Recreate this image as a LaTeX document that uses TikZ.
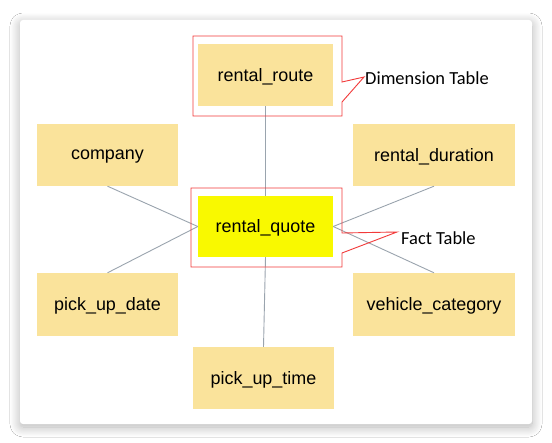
\documentclass[tikz,border=0pt]{standalone}
\usepackage{fontspec}
\setmainfont{Liberation Sans}
\newfontfamily\calibri{Carlito}
\usetikzlibrary{shadows.blur}
\definecolor{boxfill}{HTML}{FAE39B}
\definecolor{factfill}{HTML}{F9F900}
\definecolor{frame}{HTML}{F23A3A}
\definecolor{conn}{HTML}{9AA4AE}
\tikzset{
  tbl/.style={rectangle, fill=boxfill, inner sep=0pt, font=\fontsize{18}{21}\selectfont, text depth=0pt},
  fact/.style={tbl, fill=factfill},
  conline/.style={draw=conn, line width=0.9bp},
  callout/.style={draw=frame, line width=0.9bp, line join=miter},
  note/.style={font=\calibri\fontsize{18.5}{21}\selectfont, inner sep=0pt, anchor=west}
}
\begin{document}
\begin{tikzpicture}[x=1bp, y=-1bp]
\useasboundingbox (0,0) rectangle (552,443);
\fill[white] (0,0) rectangle (552,443);
\path[fill=white, rounded corners=3bp,
  blur shadow={shadow xshift=0bp, shadow yshift=-3bp, shadow blur radius=10bp, shadow blur steps=16, shadow opacity=30}]
  (20,20) rectangle (532,424);

% tables
\node[tbl, minimum width=135bp, minimum height=62bp] (route) at (265.5,75) {rental\_route};
\node[fact, minimum width=135bp, minimum height=61bp] (quote) at (265.5,226.5) {rental\_quote};
\node[tbl, minimum width=141bp, minimum height=62bp] (company) at (107.5,155) {company};
\node[tbl, minimum width=141bp, minimum height=63bp] (date) at (107.5,304.5) {pick\_up\_date};
\node[tbl, minimum width=162bp, minimum height=62bp] (duration) at (434,155) {rental\_duration};
\node[tbl, minimum width=162bp, minimum height=63bp] (vehicle) at (434,304.5) {vehicle\_category};
\node[tbl, minimum width=141bp, minimum height=62bp] (time) at (263.5,378) {pick\_up\_time};

% connectors
\draw[conline] (company.south) -- (quote.west);
\draw[conline] (date.north) -- (quote.west);
\draw[conline] (duration.south) -- (quote.east);
\draw[conline] (vehicle.north) -- (quote.east);
\draw[conline] (route.south) -- (quote.north);
\draw[conline] (time.north) -- (quote.south);

% callout labels
\node[note] (dimlbl) at (365,78) {Dimension Table};
\node[note] (factlbl) at (401,238) {Fact Table};
\coordinate (dimtip) at (364,77);
\coordinate (facttip) at (397,232);

% callout frames
\draw[callout] (342,82) -- (dimtip) -- (342,102) -- (342,116) -- (193,116) -- (193,36) -- (342,36) -- cycle;
\draw[callout] (342,233) -- (facttip) -- (342,253) -- (342,267) -- (191,267) -- (191,188) -- (342,188) -- cycle;
\end{tikzpicture}
\end{document}
